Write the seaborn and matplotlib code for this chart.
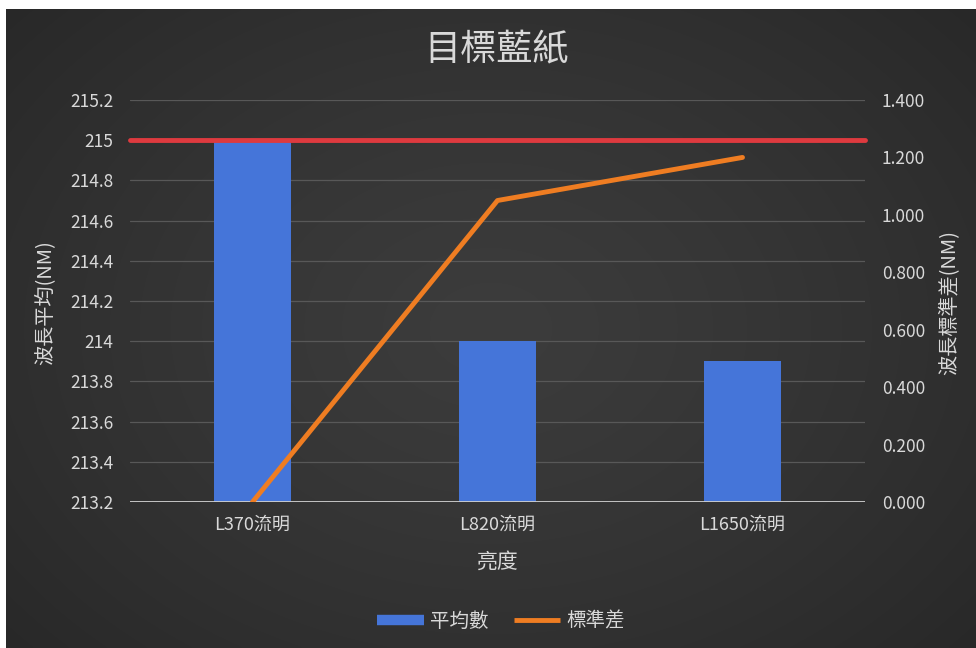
import numpy as np
import pandas as pd
import matplotlib
matplotlib.use("Agg")
import matplotlib.pyplot as plt
from matplotlib.lines import Line2D
import seaborn as sns

# Data
categories = ["L370流明", "L820流明", "L1650流明"]
mean_wavelength = [215.0, 214.0, 213.9]   # 平均數 (left axis)
std_wavelength = [0.000, 1.05, 1.20]      # 標準差 (right axis)
target_value = 215.0                      # target line
left_ticks = [213.2, 213.4, 213.6, 213.8, 214.0, 214.2, 214.4, 214.6, 214.8, 215.0, 215.2]
left_tick_labels = ["213.2", "213.4", "213.6", "213.8", "214", "214.2", "214.4", "214.6", "214.8", "215", "215.2"]
right_ticks = [0.0, 0.2, 0.4, 0.6, 0.8, 1.0, 1.2, 1.4]

sns.set_theme(style="dark")
plt.rcParams["font.family"] = ["Noto Sans CJK TC", "DejaVu Sans"]

TEXT = "#d9d9d9"
GRID = "#585858"
BAR = "#4575d9"
ORANGE = "#ef7d22"
RED = "#de3a3f"

W, H = 976, 648
fig = plt.figure(figsize=(W / 100, H / 100), dpi=100, facecolor="white")

# Dark radial-gradient chart background (thin white frame at top/left)
bg = fig.add_axes([6 / W, 0, (W - 6) / W, (H - 9) / H], zorder=0)
yy, xx = np.mgrid[0:1:300j, 0:1:450j]
r = np.sqrt(((xx - 0.5) / 0.75) ** 2 + ((yy - 0.5) / 0.85) ** 2)
shade = 0.235 - 0.09 * np.clip(r, 0, 1) ** 1.3
bg.imshow(np.dstack([shade, shade, shade]), extent=[0, 1, 0, 1], aspect="auto", interpolation="bicubic")
bg.set_axis_off()

left, right = 130 / W, 865 / W
bottom, top = (H - 502) / H, (H - 100) / H
ax = fig.add_axes([left, bottom, right - left, top - bottom], zorder=1)
ax.patch.set_alpha(0)

df = pd.DataFrame({"亮度": categories, "平均數": mean_wavelength, "標準差": std_wavelength})

sns.barplot(data=df, x="亮度", y="平均數", ax=ax, color=BAR, width=0.315,
            saturation=1, edgecolor="none", zorder=3)
ax.set_ylim(213.2, 215.2)
ax.set_xlim(-0.5, 2.5)
ax.set_yticks(left_ticks)
ax.set_yticklabels(left_tick_labels)
ax.grid(axis="y", color=GRID, linewidth=0.9, zorder=0)
ax.grid(axis="x", visible=False)
for s in ax.spines.values():
    s.set_visible(False)
ax.axhline(213.2, color="#cfcfcf", linewidth=1.3, zorder=4)
ax.axhline(target_value, color=RED, linewidth=3.5, zorder=5, clip_on=False)
ax.tick_params(axis="y", colors=TEXT, labelsize=12.5, length=0, pad=12)
ax.tick_params(axis="x", colors=TEXT, labelsize=13, length=0, pad=10)
ax.set_xlabel("")
ax.set_ylabel("")

ax2 = ax.twinx()
ax2.patch.set_alpha(0)
sns.lineplot(data=df, x="亮度", y="標準差", ax=ax2, color=ORANGE, linewidth=3.5,
             sort=False, zorder=6)
ax2.set_ylim(0, 1.4)
ax2.set_yticks(right_ticks)
ax2.set_yticklabels([f"{v:.3f}" for v in right_ticks])
ax2.tick_params(axis="y", colors=TEXT, labelsize=12.5, length=0, pad=12)
ax2.grid(False)
ax2.set_ylabel("")
for s in ax2.spines.values():
    s.set_visible(False)
ax2.set_xlim(-0.5, 2.5)

# Titles and axis titles
fig.text(497 / W, 1 - 49 / H, "目標藍紙", ha="center", va="center", color=TEXT, fontsize=26)
fig.text(45 / W, 1 - 303 / H, "波長平均(NM)", ha="center", va="center", rotation=90,
         color=TEXT, fontsize=14.5)
fig.text(950 / W, 1 - 302 / H, "波長標準差(NM)", ha="center", va="center", rotation=90,
         color=TEXT, fontsize=14.5)
fig.text(497 / W, 1 - 562 / H, "亮度", ha="center", va="center", color=TEXT, fontsize=15)

handles = [Line2D([0], [0], color=BAR, linewidth=7.5, solid_capstyle="butt"),
           Line2D([0], [0], color=ORANGE, linewidth=3.5, solid_capstyle="butt")]
fig.legend(handles, ["平均數", "標準差"], loc="center", bbox_to_anchor=(501 / W, 1 - 621 / H),
           ncol=2, frameon=False, fontsize=14, labelcolor=TEXT, handlelength=2.4,
           handletextpad=0.3, columnspacing=1.3)

fig.savefig("out.png", dpi=100, facecolor="white")
